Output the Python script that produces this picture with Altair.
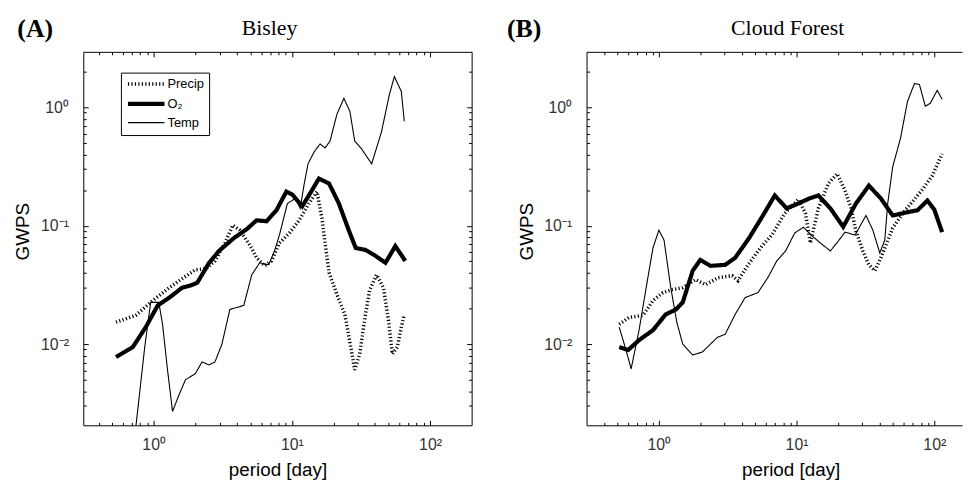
import altair as alt
import pandas as pd

SERIES = ["Precip", "O₂", "Temp"]
DASHES = [[1.2, 2.3], [1, 0], [1, 0]]
WIDTHS = {"Precip": 3.5, "O₂": 4.2, "Temp": 1.1}

# ---------------- (A) Bisley ----------------
a_precip_period = [0.534, 0.743, 0.984, 1.30, 1.61, 2.00, 2.40, 2.78, 3.28, 3.74, 4.20, 4.96, 5.57,
                   6.35, 7.13, 8.13, 9.60, 11.3, 13.3, 15.2, 16.5, 17.4, 18.6, 21.2, 24.2, 26.3,
                   28.5, 31.0, 33.6, 36.5, 41.0, 46.0, 50.0, 53.4, 58.0, 62.0, 65.1]
a_precip_gwps = [0.0153, 0.0175, 0.0233, 0.0300, 0.0357, 0.0424, 0.0433, 0.0504, 0.0714, 0.101,
                 0.0917, 0.0687, 0.0535, 0.0458, 0.0504, 0.0714, 0.0866, 0.111, 0.154, 0.194,
                 0.116, 0.0714, 0.0401, 0.0262, 0.0178, 0.0104, 0.00606, 0.00825, 0.0159,
                 0.0283, 0.0385, 0.0300, 0.0159, 0.00825, 0.00944, 0.0139, 0.0178]

a_o2_period = [0.534, 0.707, 0.877, 1.07, 1.30, 1.61, 1.84, 2.07, 2.52, 2.97, 3.81, 4.72, 5.56,
               6.56, 7.74, 9.13, 10.1, 11.9, 13.8, 15.7, 18.6, 21.9, 25.8, 29.0, 34.2, 40.3,
               47.6, 56.1, 66.2]
a_o2_gwps = [0.00778, 0.00944, 0.0139, 0.0212, 0.0247, 0.0300, 0.0312, 0.0330, 0.0486, 0.0612,
             0.0786, 0.0935, 0.111, 0.109, 0.135, 0.194, 0.183, 0.146, 0.194, 0.250, 0.227,
             0.154, 0.0917, 0.0648, 0.0624, 0.0556, 0.0486, 0.0673, 0.0504]

a_temp_period = [0.74, 0.862, 0.952, 1.09, 1.16, 1.26, 1.37, 1.54, 1.70, 2.00, 2.24, 2.52, 2.78,
                 3.12, 3.56, 4.49, 5.13, 5.85, 6.79, 7.49, 8.13, 9.29, 10.6, 11.5, 12.3, 13.1,
                 14.5, 16.0, 17.4, 18.9, 21.2, 23.8, 26.3, 28.5, 32.0, 37.8, 44.5, 50.8, 55.2,
                 62.0, 65.1]
a_temp_gwps = [0.0019, 0.00944, 0.0225, 0.0225, 0.0147, 0.00606, 0.0027, 0.00382, 0.0050,
               0.00561, 0.00707, 0.00667, 0.00707, 0.0100, 0.0196, 0.0212, 0.0385, 0.0486,
               0.0467, 0.0612, 0.0833, 0.154, 0.170, 0.140, 0.227, 0.333, 0.42, 0.490, 0.454,
               0.519, 0.874, 1.19, 0.926, 0.519, 0.445, 0.333, 0.618, 1.28, 1.82, 1.36, 0.763]

# ---------------- (B) Cloud Forest ----------------
b_precip_period = [0.515, 0.608, 0.767, 0.906, 1.07, 1.26, 1.49, 1.85, 2.18, 2.70, 3.41, 3.76,
                   4.44, 5.60, 6.61, 8.20, 10.3, 11.6, 12.6, 14.4, 17.0, 19.7, 22.5, 24.9, 27.0,
                   30.3, 33.5, 37.0, 40.9, 45.2, 49.9, 58.9, 69.5, 82.0, 96.8, 114]
b_precip_gwps = [0.0147, 0.0168, 0.0175, 0.0233, 0.0272, 0.0289, 0.0300, 0.0350, 0.0318, 0.0364,
                 0.0378, 0.0343, 0.0467, 0.0673, 0.0833, 0.127, 0.167, 0.127, 0.0714, 0.140,
                 0.227, 0.275, 0.198, 0.140, 0.0899, 0.0612, 0.0467, 0.0416, 0.0535, 0.0714,
                 0.0953, 0.127, 0.160, 0.202, 0.265, 0.404]

b_o2_period = [0.515, 0.598, 0.718, 0.906, 1.12, 1.33, 1.49, 1.76, 2.00, 2.37, 3.03, 3.58, 4.52,
               5.60, 6.95, 8.48, 10.3, 12.4, 14.4, 17.6, 21.8, 27.0, 33.5, 40.9, 49.9, 63.9,
               75.5, 89.1, 100, 114]
b_o2_gwps = [0.00944, 0.00891, 0.0108, 0.0131, 0.0178, 0.0196, 0.0225, 0.0416, 0.0514, 0.0458,
             0.0467, 0.0535, 0.0786, 0.118, 0.180, 0.140, 0.154, 0.170, 0.180, 0.140, 0.098,
             0.154, 0.218, 0.170, 0.122, 0.130, 0.135, 0.163, 0.137, 0.0883]

b_temp_period = [0.515, 0.569, 0.629, 0.718, 0.820, 0.906, 1.0, 1.09, 1.22, 1.35, 1.49, 1.76,
                 2.07, 2.37, 2.66, 3.03, 3.58, 4.23, 5.24, 6.18, 7.18, 8.33, 9.68, 11.2, 13.0,
                 14.9, 17.6, 20.1, 22.5, 26.6, 31.9, 35.8, 40.2, 43.7, 45.9, 49.9, 56.9, 63.9,
                 71.8, 78.0, 86.1, 93.6, 105, 114]
b_temp_gwps = [0.0139, 0.00944, 0.00618, 0.0131, 0.0330, 0.0648, 0.0917, 0.0756, 0.0300, 0.0153,
               0.0100, 0.00809, 0.00857, 0.0100, 0.0114, 0.0121, 0.0178, 0.0247, 0.0272, 0.0364,
               0.0504, 0.0612, 0.0866, 0.0971, 0.0817, 0.0714, 0.0612, 0.0742, 0.0883, 0.0833,
               0.122, 0.0917, 0.0589, 0.0756, 0.154, 0.315, 0.550, 1.12, 1.59, 1.56, 1.02, 1.08,
               1.39, 1.17]

# ---------------- axes ----------------
X_TICKS = [0.4, 0.5, 0.6, 0.7, 0.8, 0.9, 1, 2, 3, 4, 5, 6, 7, 8, 9,
           10, 20, 30, 40, 50, 60, 70, 80, 90, 100]
Y_TICKS = [0.003, 0.004, 0.005, 0.006, 0.007, 0.008, 0.009, 0.01, 0.02, 0.03, 0.04, 0.05,
           0.06, 0.07, 0.08, 0.09, 0.1, 0.2, 0.3, 0.4, 0.5, 0.6, 0.7, 0.8, 0.9, 1, 2]
X_LABELS = {"1": "10⁰", "10": "10¹", "100": "10²"}
Y_LABELS = {"1": "10⁰", "0.1": "10⁻¹", "0.01": "10⁻²"}
Y_DOMAIN = [0.00206, 2.942]


def label_expr(mapping):
    expr = "''"
    for k, v in mapping.items():
        expr = f"datum.value == {k} ? '{v}' : ({expr})"
    return expr


DEC = "abs(log(datum.value)/LN10 - round(log(datum.value)/LN10)) < 0.001"


def make_df(parts):
    rows = []
    for s, periods, vals in parts:
        for i, (p, v) in enumerate(zip(periods, vals)):
            rows.append({"series": s, "period": p, "gwps": v, "idx": i, "w": WIDTHS[s]})
    return pd.DataFrame(rows)


def text_layer(text, x, y, size, weight):
    return alt.Chart(pd.DataFrame({"t": [text]})).mark_text(
        font="Liberation Serif", fontSize=size, fontWeight=weight, align="center",
        baseline="alphabetic", color="black"
    ).encode(text="t:N", x=alt.value(x), y=alt.value(y))


def panel(df, W, H, xdom, title, letter, title_x, letter_x, show_legend, right_ticks, xtitle_x=None):
    xgrid = {"condition": {"test": DEC, "value": [5, H - 10, 5]}, "value": [3, H - 6, 3]}
    if right_ticks:
        ygrid = {"condition": {"test": DEC, "value": [5, W - 10, 5]}, "value": [3, W - 6, 3]}
    else:
        ygrid = {"condition": {"test": DEC, "value": [5, 4000]}, "value": [3, 4000]}
    xaxis_kw = dict(values=X_TICKS, labelExpr=label_expr(X_LABELS), title="period [day]",
                    grid=True, gridDash=xgrid, gridColor="black", gridOpacity=1, gridWidth=1,
                    ticks=False, domain=False, labelPadding=11, labelFontSize=16,
                    labelColor="#333", labelFlush=False, labelOverlap=False,
                    titleFontSize=19, titlePadding=9, titleFontWeight="normal")
    if xtitle_x is not None:
        xaxis_kw["titleX"] = xtitle_x
    yaxis = alt.Axis(values=Y_TICKS, labelExpr=label_expr(Y_LABELS), title="GWPS",
                     grid=True, gridDash=ygrid, gridColor="black", gridOpacity=1, gridWidth=1,
                     ticks=False, domain=False, labelPadding=15, labelFontSize=16,
                     labelColor="#333", labelFlush=False, labelOverlap=False,
                     titleFontSize=19, titleX=-61, titleY=181, titleBaseline="middle",
                     titleFontWeight="normal")
    if show_legend:
        width_sig = ("datum.value === 'O₂' ? %s : datum.value === 'Precip' ? %s : %s"
                     % (WIDTHS["O₂"], WIDTHS["Precip"], WIDTHS["Temp"]))
        leg = alt.Legend(title=None, orient="none", legendX=38, legendY=21,
                         symbolType="M-4,0H4", symbolSize=85, symbolStrokeColor="black",
                         symbolStrokeWidth={"expr": width_sig},
                         labelFont="Liberation Sans", labelFontSize=13, labelColor="black",
                         labelOffset=15, strokeColor="black", fillColor="white", padding=5,
                         rowPadding=4, symbolOffset=14)
    else:
        leg = None
    lines = alt.Chart(df).mark_line(clip=True, color="black").encode(
        x=alt.X("period:Q", scale=alt.Scale(type="log", domain=xdom, nice=False),
                axis=alt.Axis(**xaxis_kw)),
        y=alt.Y("gwps:Q", scale=alt.Scale(type="log", domain=Y_DOMAIN, nice=False), axis=yaxis),
        strokeDash=alt.StrokeDash("series:N", scale=alt.Scale(domain=SERIES, range=DASHES),
                                  legend=leg),
        strokeWidth=alt.StrokeWidth("w:Q", scale=None, legend=None),
        order="idx:Q",
    )
    if right_ticks:
        view = alt.ViewBackground(stroke="black", strokeWidth=1)
    else:
        view = alt.ViewBackground(stroke="black", strokeWidth=1, strokeDash=[W, H, W + H])
    return alt.layer(
        lines,
        text_layer(title, title_x, -17, 22, "normal"),
        text_layer(letter, letter_x, -15, 26, "bold"),
    ).properties(width=W, height=H, view=view)


df_a = make_df([("Precip", a_precip_period, a_precip_gwps),
                ("Temp", a_temp_period, a_temp_gwps),
                ("O₂", a_o2_period, a_o2_gwps)])
df_b = make_df([("Precip", b_precip_period, b_precip_gwps),
                ("Temp", b_temp_period, b_temp_gwps),
                ("O₂", b_o2_period, b_o2_gwps)])

pa = panel(df_a, 392, 377, [0.3097, 200.0], "Bisley", "(A)", 188, -48.5, True, True)
pb = panel(df_b, 379, 377, [0.2984, 159.0], "Cloud Forest", "(B)", 203, -63, False, False,
           xtitle_x=206)

chart = alt.hconcat(pa, pb, spacing=34).resolve_legend(
    strokeDash="independent"
).properties(
    padding={"left": 5, "top": 5, "right": 0, "bottom": 0}
).configure(
    font="Liberation Sans", background="white"
).configure_axis(
    labelFont="Liberation Sans", titleFont="Liberation Sans", titleColor="black"
)

chart.save("out.html", embed_options={"renderer": "svg", "actions": False})
